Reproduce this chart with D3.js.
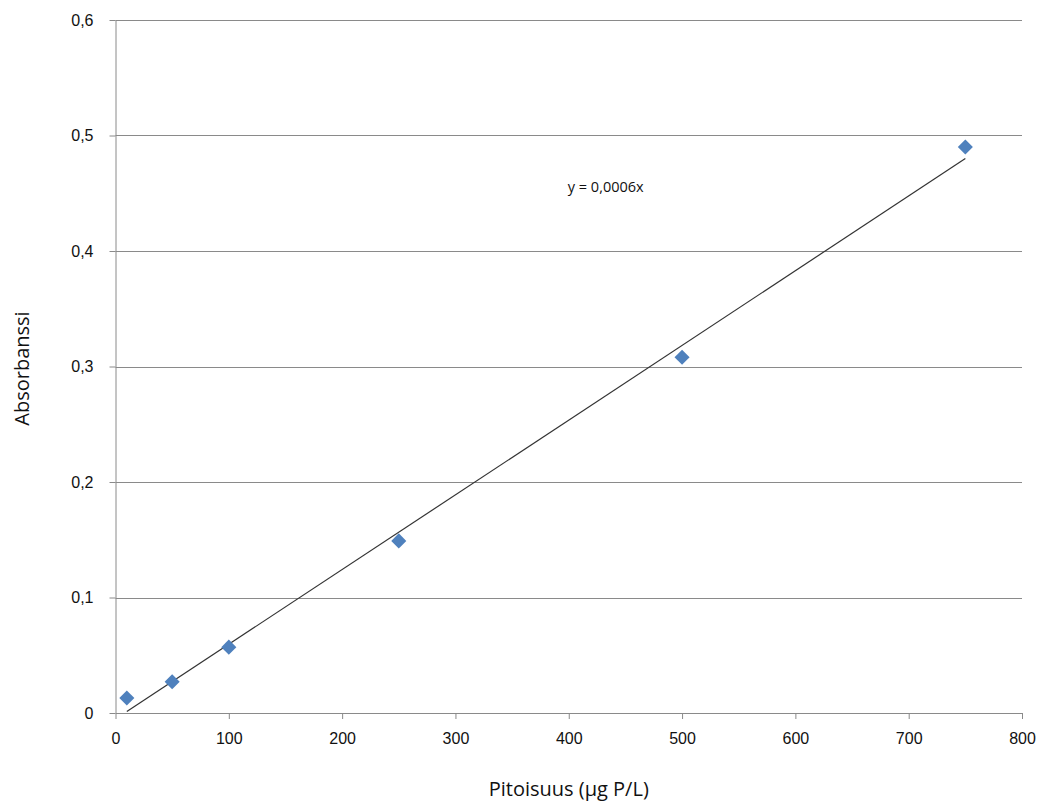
<!DOCTYPE html>
<html>
<head>
<meta charset="utf-8">
<script src="https://cdn.jsdelivr.net/npm/d3@7"></script>
<style>
  body { margin: 0; background: #fff; }
  svg { font-family: "Open Sans", "Liberation Sans", sans-serif; }
</style>
</head>
<body>
<svg width="1043" height="803"></svg>
<script>
// pitoisuus (µg P/L) and absorbanssi
var concentration = [10, 50, 100, 250, 500, 750];
var absorbance = [0.013, 0.027, 0.057, 0.149, 0.308, 0.490];
// trendline ends as drawn in the picture
var trendX = [10, 750];
var trendY = [0.0013, 0.480];
var xTicks = [0, 100, 200, 300, 400, 500, 600, 700, 800];
var yTicks = [0, 0.1, 0.2, 0.3, 0.4, 0.5, 0.6];

var drawChart = function() {
    let svg = d3.select("svg");

    let margin = { top: 20, right: 21, bottom: 90, left: 115.5 };
    let plotWidth = 1043 - margin.left - margin.right;
    let plotHeight = 803 - margin.top - margin.bottom;

    let x = d3.scaleLinear().domain([0, 800]).range([0, plotWidth]);
    let y = d3.scaleLinear().domain([0, 0.6]).range([plotHeight, 0]);

    let plot = svg.append("g")
        .attr("id", "plot")
        .attr("transform", "translate(" + margin.left + "," + margin.top + ")");

    // horizontal gridlines
    plot.append("g").selectAll("line")
        .data(yTicks.slice(1))
        .enter().append("line")
        .attr("x1", 0).attr("x2", plotWidth)
        .attr("y1", d => Math.round(y(d)) + 0.5)
        .attr("y2", d => Math.round(y(d)) + 0.5)
        .attr("stroke", "#8a8a8a")
        .attr("stroke-width", 1);

    let fmt = d => String(d).replace(".", ",");

    let xAxis = d3.axisBottom(x).tickValues(xTicks).tickSize(6).tickSizeOuter(0).tickPadding(14);
    let yAxis = d3.axisLeft(y).tickValues(yTicks).tickSize(6).tickSizeOuter(0).tickPadding(16)
        .tickFormat(fmt);

    let xGroup = plot.append("g").attr("transform", "translate(0," + plotHeight + ")").call(xAxis);
    let yGroup = plot.append("g").call(yAxis);

    [xGroup, yGroup].forEach(function(g) {
        g.selectAll("path, line").attr("stroke", "#8a8a8a");
        g.selectAll("text").attr("fill", "#111").style("font-size", "16px");
    });

    // linear trendline
    plot.append("line")
        .attr("x1", x(trendX[0])).attr("y1", y(trendY[0]))
        .attr("x2", x(trendX[1])).attr("y2", y(trendY[1]))
        .attr("stroke", "#333")
        .attr("stroke-width", 1.2);

    // markers
    let diamond = d3.symbol().type(d3.symbolDiamond2).size(145);
    plot.selectAll("path.pt")
        .data(concentration)
        .enter().append("path")
        .attr("class", "pt")
        .attr("d", diamond)
        .attr("transform", (d, i) => "translate(" + x(d) + "," + y(absorbance[i]) + ")")
        .attr("fill", "#4f81bd");

    // equation label
    plot.append("text")
        .attr("x", x(400) - 1)
        .attr("y", y(0.451))
        .attr("text-anchor", "start")
        .style("font-size", "14.5px")
        .attr("fill", "#111")
        .text("y = 0,0006x");

    svg.append("text")
        .attr("transform", "rotate(-90)")
        .attr("x", -(margin.top + plotHeight / 2 + 2))
        .attr("y", 29)
        .attr("text-anchor", "middle")
        .style("font-size", "20px")
        .attr("fill", "#111")
        .text("Absorbanssi");

    svg.append("text")
        .attr("x", margin.left + plotWidth / 2)
        .attr("y", 796)
        .attr("text-anchor", "middle")
        .style("font-size", "20px")
        .attr("fill", "#111")
        .text("Pitoisuus (µg P/L)");
};

drawChart();
</script>
</body>
</html>
